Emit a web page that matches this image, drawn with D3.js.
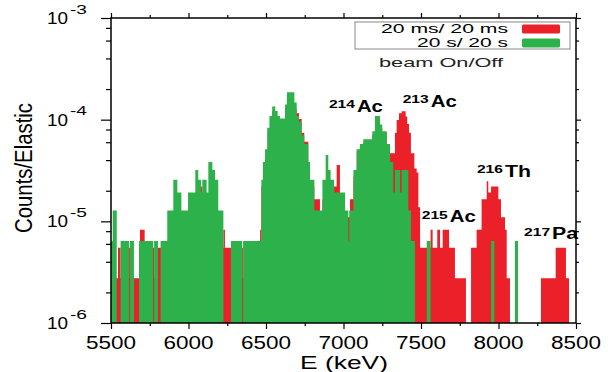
<!DOCTYPE html>
<html>
<head>
<meta charset="utf-8">
<script src="https://cdn.jsdelivr.net/npm/d3@7"></script>
<style>
  body { margin: 0; background: #fff; }
  svg { display: block; font-family: "Liberation Sans", Arial, sans-serif; }
</style>
</head>
<body>
<div id="chart"></div>
<script>
// axis ticks
const xTicks = [5500, 6000, 6500, 7000, 7500, 8000, 8500]
const yTicks = [1e-6, 1e-5, 1e-4, 1e-3]
const yExponents = ["-6", "-5", "-4", "-3"]

// histogram bins: [start keV, counts] - each count holds until the next start
const redUnit = 2.75e-6
const greenUnit = 6.4e-6

const redSteps = [
  [5500, 1], [5537, 1], [5545, 2], [5562, 1], [5616, 2], [5622, 1], [5681, 2], [5687, 3],
  [5717, 2], [5778, 1], [5803, 2], [6081, 8], [6089, 2], [6225, 3], [6235, 2], [6274, 1],
  [6346, 2], [6352, 1], [6462, 3], [6468, 2], [6470, 8], [6494, 15], [6511, 28], [6526, 38],
  [6540, 44], [6560, 40], [6575, 36], [6590, 34], [6623, 48], [6683, 46], [6698, 42],
  [6713, 37], [6730, 27], [6747, 22], [6773, 12], [6784, 8], [6812, 6], [6848, 4], [6864, 6],
  [6939, 8], [6956, 13], [6977, 4], [7042, 6], [7064, 10], [7085, 18], [7106, 20], [7128, 22],
  [7186, 26], [7203, 38], [7235, 30], [7250, 27], [7279, 21], [7300, 17], [7332, 27],
  [7343, 36], [7358, 42], [7375, 44], [7401, 39], [7411, 33], [7423, 27], [7435, 17],
  [7457, 12], [7472, 11], [7483, 5], [7494, 2], [7562, 3], [7575, 2], [7605, 3], [7623, 2],
  [7640, 3], [7665, 3], [7681, 2], [7719, 1], [7790, 0], [7823, 2], [7859, 3], [7891, 6],
  [7924, 9], [7934, 7], [7952, 8], [7999, 6], [8016, 4], [8042, 3], [8053, 1], [8074, 0],
  [8274, 1], [8369, 2], [8435, 1], [8455, 0], [8500, 0]
]

const greenSteps = [
  [5500, 1], [5511, 2], [5537, 0], [5562, 1], [5616, 0], [5622, 1], [5648, 0], [5681, 1],
  [5772, 0], [5778, 1], [5803, 0], [5820, 1], [5863, 2], [5902, 4], [5928, 3], [5954, 2],
  [5997, 3], [6044, 5], [6063, 4], [6081, 3], [6089, 4], [6117, 3], [6128, 6], [6154, 5],
  [6171, 4], [6192, 2], [6225, 0], [6274, 1], [6346, 0], [6352, 1], [6470, 4], [6480, 6],
  [6494, 8], [6508, 13], [6522, 17], [6540, 21], [6560, 19], [6575, 17], [6590, 16],
  [6623, 22], [6635, 29], [6683, 23], [6698, 17], [6713, 15], [6730, 11], [6747, 9],
  [6773, 6], [6784, 4], [6812, 2], [6864, 4], [6885, 7], [6902, 5], [6917, 4], [6939, 3],
  [7010, 2], [7031, 1], [7037, 2], [7064, 5], [7085, 8], [7106, 9], [7128, 10], [7186, 12],
  [7203, 17], [7235, 14], [7250, 12], [7279, 9], [7300, 6], [7321, 3], [7332, 5], [7365, 3],
  [7375, 5], [7418, 2], [7435, 1], [7461, 0], [7537, 1], [7562, 0], [7952, 1], [7973, 0],
  [8106, 1], [8126, 0], [8500, 0]
]

// isotope labels, anchored at [keV, Counts/Elastic]
const isotopes = [
  { mass: "214", sym: "Ac", E: 6906, v: 1.19e-4 },
  { mass: "213", sym: "Ac", E: 7382, v: 1.345e-4 },
  { mass: "216", sym: "Th", E: 7861, v: 2.76e-5 },
  { mass: "215", sym: "Ac", E: 7505, v: 9.84e-6 },
  { mass: "217", sym: "Pa", E: 8165, v: 6.7e-6 }
]

const legendLabels = ["20 ms/ 20 ms", "20 s/ 20 s"]
const RED = "#ec2028", GREEN = "#2db14b"

const width = 609, height = 372
const m = { left: 111, right: 576, top: 18, bottom: 323 }

const x = d3.scaleLinear().domain([5500, 8500]).range([m.left, m.right])
const y = d3.scaleLog().domain([1e-6, 1e-3]).range([m.bottom, m.top])

const svg = d3.select("#chart").append("svg")
  .attr("width", width)
  .attr("height", height)

function txt(g, px, py, s, size, len, weight) {
  return g.append("text")
    .attr("x", px).attr("y", py)
    .attr("font-size", size)
    .attr("font-weight", weight || "normal")
    .attr("textLength", len)
    .attr("lengthAdjust", "spacingAndGlyphs")
    .text(s)
}

// histograms, red first, green over it
function histo(steps, unit, color) {
  const area = d3.area()
    .curve(d3.curveStepAfter)
    .x(d => x(d[0]))
    .y0(y(1e-6))
    .y1(d => d[1] > 0 ? y(d[1] * unit) : y(1e-6))
  svg.append("path")
    .datum(steps)
    .attr("fill", color)
    .attr("d", area)
}
histo(redSteps, redUnit, RED)
histo(greenSteps, greenUnit, GREEN)

// ticks
const xMinor = d3.range(5750, 8500, 500)
const yMinor = []
for (let k = -6; k < -3; k++) [2, 4, 6, 8].forEach(f => yMinor.push(f * Math.pow(10, k)))

function ticks(axis, tr, size) {
  svg.append("g")
    .attr("transform", tr)
    .call(axis.tickSize(size).tickSizeOuter(0).tickFormat(""))
    .call(g => g.select(".domain").remove())
    .selectAll("line").attr("stroke", "#000").attr("stroke-width", 1.2)
}
ticks(d3.axisBottom(x).tickValues(xTicks), `translate(0,${m.bottom})`, 6)
ticks(d3.axisBottom(x).tickValues(xMinor), `translate(0,${m.bottom})`, 3)
ticks(d3.axisTop(x).tickValues(xTicks), `translate(0,${m.top})`, 5)
ticks(d3.axisTop(x).tickValues(xMinor), `translate(0,${m.top})`, 3)
ticks(d3.axisLeft(y).tickValues(yTicks), `translate(${m.left},0)`, 10)
ticks(d3.axisLeft(y).tickValues(yMinor), `translate(${m.left},0)`, 5)
ticks(d3.axisRight(y).tickValues(yTicks), `translate(${m.right},0)`, 5)
ticks(d3.axisRight(y).tickValues(yMinor), `translate(${m.right},0)`, 3)

svg.append("rect")
  .attr("x", m.left).attr("y", m.top)
  .attr("width", m.right - m.left).attr("height", m.bottom - m.top)
  .attr("fill", "none").attr("stroke", "#000").attr("stroke-width", 1.5)

// tick labels
xTicks.forEach(v => txt(svg, x(v) - 25, 349, String(v), 18, 50))
yTicks.forEach((v, i) => {
  txt(svg, 47, y(v) + 6, "10", 16, 21)
  txt(svg, 70, y(v) - 4.5, yExponents[i], 12, 17)
})

// axis titles
txt(svg, 300, 369, "E (keV)", 18, 88)
svg.append("g")
  .attr("transform", "translate(32,168) scale(1.15,1) rotate(-90)")
  .call(g => txt(g, -65, 0, "Counts/Elastic", 20, 130))

// isotope labels
isotopes.forEach(d => {
  txt(svg, x(d.E), y(d.v) - 3.5, d.mass, 11.5, 26, "bold")
  txt(svg, x(d.E) + 28, y(d.v), d.sym, 16, 26, "bold")
})

// legend
svg.append("rect")
  .attr("x", 355).attr("y", 22).attr("width", 215).attr("height", 27)
  .attr("fill", "#fff").attr("stroke", "#888").attr("stroke-width", 1)
const legendColors = [RED, GREEN]
const legendLen = [127, 91]
legendLabels.forEach((s, i) => {
  txt(svg, 508 - legendLen[i], 33 + i * 14.3, s, 12.4, legendLen[i])
  svg.append("rect")
    .attr("x", 522).attr("y", 24.5 + i * 14)
    .attr("width", 38).attr("height", 9)
    .attr("rx", 1.5)
    .attr("fill", legendColors[i])
})
txt(svg, 379, 67, "beam On/Off", 13, 124).attr("fill", "#222")
</script>
</body>
</html>
